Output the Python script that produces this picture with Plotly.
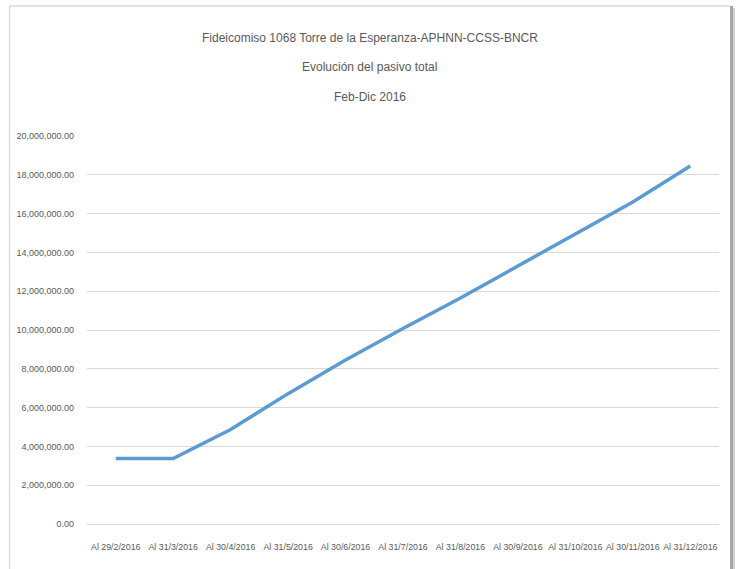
import plotly.graph_objects as go

categories = ["Al 29/2/2016", "Al 31/3/2016", "Al 30/4/2016", "Al 31/5/2016", "Al 30/6/2016",
              "Al 31/7/2016", "Al 31/8/2016", "Al 30/9/2016", "Al 31/10/2016", "Al 30/11/2016",
              "Al 31/12/2016"]
pasivo_total = [3370000, 3370000, 4870000, 6720000, 8450000, 10080000, 11650000,
                13320000, 14950000, 16600000, 18450000]
y_ticks = list(range(0, 20000001, 2000000))
y_tick_labels = [f"{v:,.2f}" for v in y_ticks]
title_lines = ["Fideicomiso 1068 Torre de la Esperanza-APHNN-CCSS-BNCR",
               "Evolución del pasivo total", "Feb-Dic 2016"]

W, H = 739, 569
L, R, T, B = 87, 719, 136, 524
FONT = "Liberation Sans, Arial, sans-serif"

def px_x(p):
    return (p - L) / (R - L)

def px_y(p):
    return (B - p) / (B - T)

fig = go.Figure()
fig.add_trace(go.Scatter(x=categories, y=pasivo_total, mode="lines",
                         line=dict(color="#5B9BD5", width=3.5), showlegend=False,
                         hoverinfo="skip"))

fig.update_layout(
    width=W, height=H,
    margin=dict(l=L, r=W - R, t=T, b=H - B, autoexpand=False),
    paper_bgcolor="white", plot_bgcolor="white",
    font=dict(family=FONT, color="#595959", size=9),
    xaxis=dict(type="category", showgrid=False, showline=False, zeroline=False,
               ticks="", tickfont=dict(size=8.8, color="#595959"), tickangle=0,
               range=[-0.5, len(categories) - 0.5], automargin=False,
               ticklabelstandoff=16),
    yaxis=dict(range=[0, 20000000], tickvals=y_ticks, ticktext=y_tick_labels,
               showgrid=True, gridcolor="#D9D9D9", gridwidth=1, zeroline=True,
               zerolinecolor="#D9D9D9", zerolinewidth=1, showline=False, ticks="",
               tickfont=dict(size=9, color="#595959"), ticklabelstandoff=12,
               automargin=False),
)

for txt, yp in zip(title_lines, [38, 67, 97]):
    fig.add_annotation(text=txt, xref="paper", yref="paper", x=px_x(W / 2), y=px_y(yp),
                       showarrow=False, xanchor="center", yanchor="middle",
                       font=dict(family=FONT, size=12, color="#595959"))

# chart frame
fig.add_shape(type="line", xref="paper", yref="paper", x0=px_x(9.5), x1=px_x(9.5),
              y0=px_y(6), y1=px_y(H + 5), line=dict(color="#D9D9D9", width=1.2))
fig.add_shape(type="line", xref="paper", yref="paper", x0=px_x(9.5), x1=px_x(730),
              y0=px_y(6), y1=px_y(6), line=dict(color="#D9D9D9", width=1.5))
fig.add_shape(type="line", xref="paper", yref="paper", x0=px_x(731.5), x1=px_x(731.5),
              y0=px_y(6), y1=px_y(H + 5), line=dict(color="#A6A6A6", width=3))
fig.add_shape(type="line", xref="paper", yref="paper", x0=px_x(734), x1=px_x(734),
              y0=px_y(8), y1=px_y(H + 5), line=dict(color="#D0D0D0", width=2))

fig.write_html("out.html", config={"displayModeBar": False},
               post_script="document.body.style.margin='0';")
